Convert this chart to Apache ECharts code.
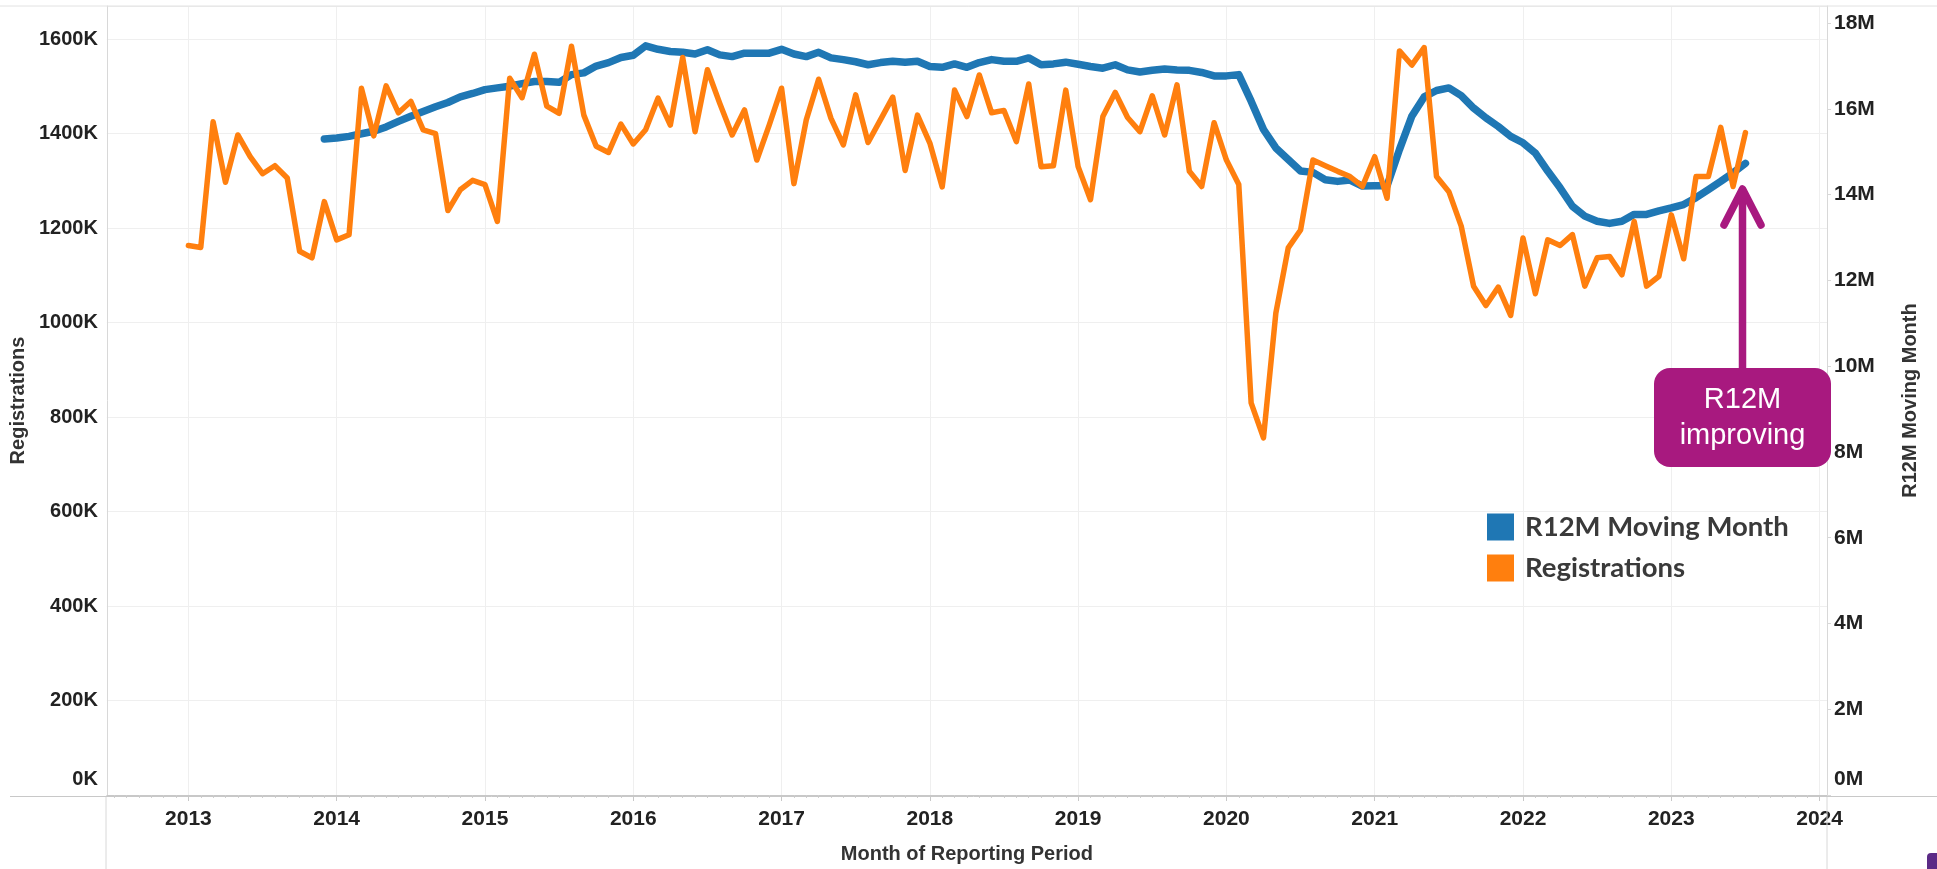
<!DOCTYPE html>
<html>
<head>
<meta charset="utf-8">
<title>Registrations</title>
<script src="https://cdn.jsdelivr.net/npm/echarts@6.0.0/dist/echarts.min.js"></script>
<style>
    body { margin: 0; background: #fff; }
    #main { width: 1937px; height: 869px; }
</style>
</head>
<body>
<div id="main"></div>
<script>
// monthly data, first registrations month is Jan 2013
var startYear = 2013;
var years = [2013, 2014, 2015, 2016, 2017, 2018, 2019, 2020, 2021, 2022, 2023, 2024];

// registrations (thousands), Jan 2013 - Jul 2023
var registrations = [
    1163, 1159, 1425, 1297, 1397, 1351, 1315, 1332, 1306, 1151, 1137, 1256,
    1175, 1186, 1496, 1395, 1501, 1444, 1468, 1408, 1400, 1237, 1281, 1301,
    1292, 1214, 1517, 1476, 1568, 1458, 1443, 1585, 1439, 1373, 1360, 1420,
    1378, 1408, 1475, 1418, 1561, 1404, 1535, 1464, 1397, 1450, 1344, 1418,
    1496, 1294, 1429, 1515, 1432, 1376, 1482, 1381, 1429, 1477, 1322, 1439,
    1380, 1287, 1492, 1436, 1524, 1444, 1449, 1383, 1505, 1330, 1332, 1492,
    1330, 1260, 1436, 1487, 1434, 1404, 1480, 1397, 1503, 1320, 1288, 1423,
    1344, 1292, 830, 756, 1020, 1158, 1196, 1344, 1332, 1320, 1309, 1288,
    1351, 1263, 1575, 1545, 1582, 1309, 1277, 1204, 1077, 1036, 1075, 1015,
    1179, 1061, 1175, 1163, 1186, 1077, 1137, 1140, 1101, 1214, 1077, 1098,
    1228, 1135, 1309, 1309, 1413, 1288, 1402
];

// rolling 12 month total (millions), Dec 2013 - Jul 2023
var r12mStart = 11;
var r12m = [
    15.30,
    15.32, 15.36, 15.42, 15.48, 15.58, 15.71, 15.83, 15.94, 16.05, 16.15, 16.28, 16.36,
    16.45, 16.49, 16.53, 16.59, 16.64, 16.64, 16.62, 16.80, 16.84, 17.00, 17.08, 17.20,
    17.25, 17.47, 17.39, 17.34, 17.32, 17.28, 17.38, 17.26, 17.22, 17.30, 17.30, 17.30,
    17.39, 17.28, 17.22, 17.32, 17.19, 17.15, 17.10, 17.03, 17.08, 17.11, 17.09, 17.11,
    16.99, 16.97, 17.05, 16.97, 17.08, 17.15, 17.11, 17.11, 17.19, 17.03, 17.05, 17.09,
    17.04, 16.99, 16.95, 17.03, 16.91, 16.86, 16.90, 16.93, 16.91, 16.90, 16.85, 16.77,
    16.77, 16.80, 16.18, 15.52, 15.09, 14.82, 14.55, 14.52, 14.35, 14.31, 14.34, 14.20,
    14.21, 14.21, 15.05, 15.83, 16.28, 16.43, 16.49, 16.31, 16.02, 15.79, 15.59, 15.36,
    15.21, 14.97, 14.55, 14.16, 13.73, 13.50, 13.38, 13.33, 13.38, 13.54, 13.54, 13.62,
    13.69, 13.77, 13.93, 14.12, 14.31, 14.51, 14.73
];

// month index -> position in years (Jan 2013 = 2013.0)
function monthPos(i) {
    return startYear + i / 12;
}

var regData = registrations.map(function (v, i) {
    return [monthPos(i), v * 1000];
});
var r12mData = r12m.map(function (v, i) {
    return [monthPos(r12mStart + i), v * 1000000];
});

// small monthly ticks along the date axis (Jul 2012 .. Jan 2024)
var monthTicks = [];
for (var m = -6; m <= 132; m++) {
    if (m % 12 !== 0) {
        monthTicks.push(monthPos(m));
    }
}

var labelFont = 'Liberation Sans, Arial, sans-serif';
var magenta = '#a8197f';
var xMin = 2012.45;
var xMax = 2024.05;

var chart = echarts.init(document.getElementById('main'));

option = {
    backgroundColor: '#fff',
    animation: false,
    grid: {
        left: 106,
        right: 110,
        top: 6,
        bottom: 72
    },
    legend: {
        orient: 'vertical',
        left: 1487,
        top: 513,
        padding: 0,
        itemWidth: 27,
        itemHeight: 27,
        itemGap: 13,
        icon: 'rect',
        data: ['R12M Moving Month', 'Registrations'],
        textStyle: {
            fontFamily: 'Lato, sans-serif',
            fontWeight: 'bold',
            fontSize: 27.5,
            color: '#3a3a3a',
            padding: [0, 0, 0, 6]
        }
    },
    xAxis: [
        {
            type: 'value',
            min: xMin,
            max: xMax,
            name: 'Month of Reporting Period',
            nameLocation: 'middle',
            nameGap: 49,
            nameTextStyle: {
                fontFamily: labelFont,
                fontWeight: 'bold',
                fontSize: 20,
                color: '#333'
            },
            axisLine: {
                lineStyle: { color: '#c8c8c8', width: 1 }
            },
            axisTick: {
                customValues: years,
                length: 6,
                lineStyle: { color: '#c8c8c8' }
            },
            axisLabel: {
                customValues: years,
                margin: 14,
                fontFamily: labelFont,
                fontWeight: 'bold',
                fontSize: 21,
                color: '#222',
                formatter: function (v) {
                    return String(Math.round(v));
                }
            },
            splitLine: {
                show: true,
                lineStyle: { color: '#efefef', width: 1 }
            }
        },
        {
            // only used for the small month ticks
            type: 'value',
            min: xMin,
            max: xMax,
            position: 'bottom',
            axisLine: { show: false },
            axisTick: {
                customValues: monthTicks,
                length: 3,
                lineStyle: { color: '#d0d0d0' }
            },
            axisLabel: { show: false },
            splitLine: { show: false }
        }
    ],
    yAxis: [
        {
            type: 'value',
            min: 0,
            max: 1670000,
            interval: 200000,
            name: 'Registrations',
            nameLocation: 'middle',
            nameRotate: 90,
            nameGap: 72,
            nameTextStyle: {
                fontFamily: labelFont,
                fontWeight: 'bold',
                fontSize: 20,
                color: '#333'
            },
            axisLine: {
                show: true,
                lineStyle: { color: '#d8d8d8' }
            },
            axisTick: { show: false },
            axisLabel: {
                showMaxLabel: false,
                margin: 9,
                fontFamily: labelFont,
                fontWeight: 'bold',
                fontSize: 20,
                color: '#222',
                formatter: function (v) {
                    if (v === 0) {
                        return '{low|0K}';
                    }
                    return v / 1000 + 'K';
                },
                rich: {
                    low: {
                        fontFamily: labelFont,
                        fontWeight: 'bold',
                        fontSize: 20,
                        color: '#222',
                        padding: [0, 0, 32, 0]
                    }
                }
            },
            splitLine: {
                lineStyle: { color: '#efefef', width: 1 }
            }
        },
        {
            type: 'value',
            min: 0,
            max: 18400000,
            interval: 2000000,
            name: 'R12M Moving Month',
            nameLocation: 'middle',
            nameRotate: 90,
            nameGap: 73,
            nameTextStyle: {
                fontFamily: labelFont,
                fontWeight: 'bold',
                fontSize: 20,
                color: '#333'
            },
            axisLine: {
                show: true,
                lineStyle: { color: '#d8d8d8' }
            },
            axisTick: {
                show: true,
                length: 4,
                lineStyle: { color: '#d8d8d8' }
            },
            axisLabel: {
                showMaxLabel: false,
                margin: 7,
                fontFamily: labelFont,
                fontWeight: 'bold',
                fontSize: 21,
                color: '#222',
                formatter: function (v) {
                    if (v === 0) {
                        return '{low|0M}';
                    }
                    return v / 1000000 + 'M';
                },
                rich: {
                    low: {
                        fontFamily: labelFont,
                        fontWeight: 'bold',
                        fontSize: 21,
                        color: '#222',
                        padding: [0, 0, 32, 0]
                    }
                }
            },
            splitLine: { show: false }
        }
    ],
    series: [
        {
            name: 'R12M Moving Month',
            type: 'line',
            xAxisIndex: 0,
            yAxisIndex: 1,
            data: r12mData,
            showSymbol: false,
            symbol: 'none',
            z: 2,
            itemStyle: { color: '#1f77b4' },
            lineStyle: { color: '#1f77b4', width: 7.5, join: 'round', cap: 'round' }
        },
        {
            name: 'Registrations',
            type: 'line',
            xAxisIndex: 0,
            yAxisIndex: 0,
            data: regData,
            showSymbol: false,
            symbol: 'none',
            z: 3,
            itemStyle: { color: '#ff7f0e' },
            lineStyle: { color: '#ff7f0e', width: 5.5, join: 'round', cap: 'round' }
        }
    ],
    graphic: [
        // pane borders
        { type: 'line', shape: { x1: 0, y1: 6, x2: 1937, y2: 6 }, style: { stroke: '#e2e2e2', lineWidth: 1 }, z: 1 },
        { type: 'line', shape: { x1: 10, y1: 796.5, x2: 1937, y2: 796.5 }, style: { stroke: '#c8c8c8', lineWidth: 1 }, z: 1 },
        { type: 'line', shape: { x1: 106, y1: 797, x2: 106, y2: 869 }, style: { stroke: '#d8d8d8', lineWidth: 1 }, z: 1 },
        { type: 'line', shape: { x1: 1827, y1: 797, x2: 1827, y2: 869 }, style: { stroke: '#d8d8d8', lineWidth: 1 }, z: 1 },
        // annotation
        {
            type: 'line',
            shape: { x1: 1742.5, y1: 370, x2: 1742.5, y2: 192 },
            style: { stroke: magenta, lineWidth: 7.5, lineCap: 'round' },
            z: 10
        },
        {
            type: 'polyline',
            shape: { points: [[1724, 225], [1742.5, 189], [1761, 225]] },
            style: { stroke: magenta, fill: null, lineWidth: 7.5, lineCap: 'round', lineJoin: 'round' },
            z: 10
        },
        {
            type: 'rect',
            shape: { x: 1654, y: 368, width: 177, height: 99, r: 16 },
            style: { fill: magenta },
            z: 10
        },
        {
            type: 'text',
            x: 1742.5,
            y: 417.5,
            style: {
                text: 'R12M\nimproving',
                fill: '#fff',
                font: '29px Liberation Sans, Arial, sans-serif',
                lineHeight: 36,
                align: 'center',
                verticalAlign: 'middle'
            },
            z: 11
        },
        // corner mark
        {
            type: 'rect',
            shape: { x: 1927, y: 853, width: 12, height: 18, r: [4, 0, 0, 0] },
            style: { fill: '#5b2a86' },
            z: 10
        }
    ]
};

chart.setOption(option);
</script>
</body>
</html>
